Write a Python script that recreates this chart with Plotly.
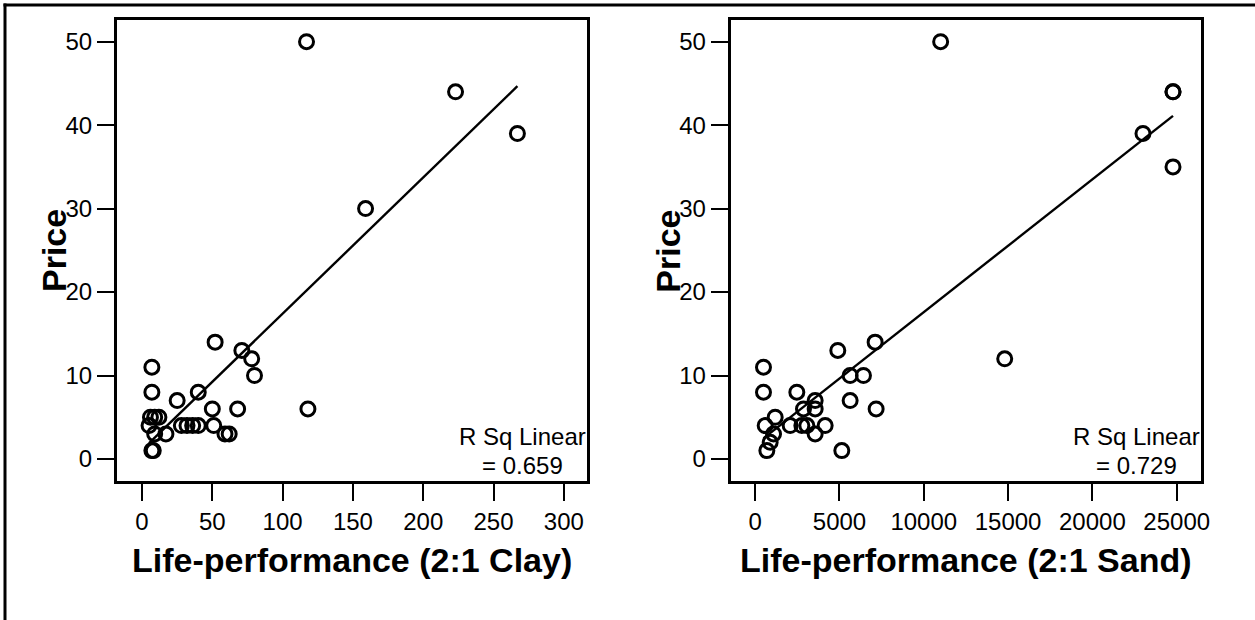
import numpy as np
import plotly.graph_objects as go

# ---- data ----
clay_x = [117, 223, 267, 159, 52, 71, 78, 80, 7, 7, 40, 25, 50, 68, 118,
          6, 9, 12, 5, 9, 17, 28, 32, 36, 40, 51, 59, 62, 7, 8]
clay_y = [50, 44, 39, 30, 14, 13, 12, 10, 11, 8, 8, 7, 6, 6, 6,
          5, 5, 5, 4, 3, 3, 4, 4, 4, 4, 4, 3, 3, 1, 1]

sand_x = [11000, 24780, 24780, 23000, 24780, 14800, 7114, 4900, 5632, 6422,
          5632, 7173, 493, 493, 2470, 3557, 2865, 3557, 1186, 593,
          2075, 2767, 3064, 4150, 3557, 1087, 889, 692, 5138]
sand_y = [50, 44, 44, 39, 35, 12, 14, 13, 10, 10,
          7, 6, 11, 8, 8, 7, 6, 6, 5, 4,
          4, 4, 4, 4, 3, 3, 2, 1, 1]

clay_ticks = [0, 50, 100, 150, 200, 250, 300]
clay_ticktext = ["0", "50", "100", "150", "200", "250", "300"]
sand_ticks = [0, 5000, 10000, 15000, 20000, 25000]
sand_ticktext = ["0", "5000", "10000", "15000", "20000", "25000"]
price_ticks = [0, 10, 20, 30, 40, 50]
price_ticktext = ["0", "10", "20", "30", "40", "50"]

clay_r2_text = ["R Sq Linear", "= 0.659"]
sand_r2_text = ["R Sq Linear", "= 0.729"]

x_titles = ["Life-performance (2:1 Clay)", "Life-performance (2:1 Sand)"]
y_title = "Price"

# ---- figure ----
W, H = 1255, 620
FONT = "Liberation Sans, Arial, sans-serif"


def fit_line(x, y):
    x = np.asarray(x, float)
    y = np.asarray(y, float)
    b, a = np.polyfit(x, y, 1)
    xs = np.array([x.min(), x.max()])
    return xs, a + b * xs


fig = go.Figure()

marker = dict(symbol="circle-open", size=14, color="black",
              line=dict(color="black", width=3))

for i, (xv, yv) in enumerate([(clay_x, clay_y), (sand_x, sand_y)]):
    xa = "x" if i == 0 else "x2"
    ya = "y" if i == 0 else "y2"
    fig.add_trace(go.Scatter(x=xv, y=yv, mode="markers", marker=marker,
                             xaxis=xa, yaxis=ya, showlegend=False,
                             cliponaxis=False))
    lx, ly = fit_line(xv, yv)
    fig.add_trace(go.Scatter(x=lx, y=ly, mode="lines",
                             line=dict(color="black", width=2.4),
                             xaxis=xa, yaxis=ya, showlegend=False))

px = lambda v: v / W
py = lambda v: 1 - v / H

L1, R1 = 117, 587
L2, R2 = 730.7, 1200.7
TOP, BOT = 20, 481

axis_common = dict(showline=True, linewidth=3, linecolor="black", mirror=True,
                   ticks="outside", ticklen=17, tickwidth=2, tickcolor="black",
                   showgrid=False, zeroline=False, automargin=False,
                   tickfont=dict(family=FONT, size=24, color="black"))

fig.update_layout(
    template="none",
    width=W, height=H, autosize=False,
    margin=dict(l=0, r=0, t=0, b=0, pad=0, autoexpand=False),
    paper_bgcolor="white", plot_bgcolor="white",
    font=dict(family=FONT, color="black"),
    xaxis=dict(domain=[px(L1), px(R1)], range=[-17.8, 316.5],
               tickvals=clay_ticks, ticktext=clay_ticktext, anchor="y",
               **axis_common),
    yaxis=dict(domain=[py(BOT), py(TOP)], range=[-2.64, 52.6],
               tickvals=price_ticks, ticktext=price_ticktext, anchor="x",
               **axis_common),
    xaxis2=dict(domain=[px(L2), px(R2)], range=[-1452, 26423],
                tickvals=sand_ticks, ticktext=sand_ticktext, anchor="y2",
                **axis_common),
    yaxis2=dict(domain=[py(BOT), py(TOP)], range=[-2.64, 52.6],
                tickvals=price_ticks, ticktext=price_ticktext, anchor="x2",
                **axis_common),
)

ann = []
for i, (L, R) in enumerate([(L1, R1), (L2, R2)]):
    ann.append(dict(text="<b>%s</b>" % y_title, xref="paper", yref="paper",
                    x=px(L - 63), y=py(251), textangle=-90, showarrow=False,
                    xanchor="center", yanchor="middle",
                    font=dict(family=FONT, size=34, color="black")))
    ann.append(dict(text="<b>%s</b>" % x_titles[i], xref="paper", yref="paper",
                    x=px((L + R) / 2), y=py(560), showarrow=False,
                    xanchor="center", yanchor="middle",
                    font=dict(family=FONT, size=34, color="black")))
    txt = clay_r2_text if i == 0 else sand_r2_text
    for j, t in enumerate(txt):
        ann.append(dict(text=t, xref="paper", yref="paper",
                        x=px(L + 405.8), y=py(436.5 + 28.5 * j), showarrow=False,
                        xanchor="center", yanchor="middle",
                        font=dict(family=FONT, size=24, color="black")))
fig.update_layout(annotations=ann)

# outer frame (left and top edges)
fig.add_shape(type="line", xref="paper", yref="paper",
              x0=px(5), x1=px(5), y0=0, y1=py(3.5),
              line=dict(color="black", width=3))
fig.add_shape(type="line", xref="paper", yref="paper",
              x0=px(3.5), x1=1, y0=py(5), y1=py(5),
              line=dict(color="black", width=3))

fig.write_html("out.html", config={"responsive": False})
